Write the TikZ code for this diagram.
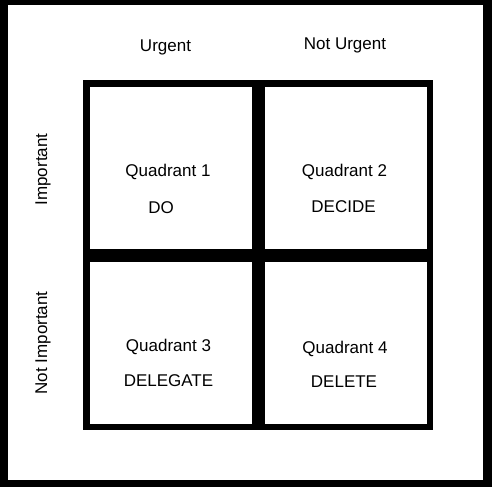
\documentclass[tikz,border=0pt]{standalone}
\usepackage{fontspec}
\setmainfont{Liberation Sans}
\usepackage{tikz}
\usetikzlibrary{calc}

\tikzset{
  quad/.style = {draw = black, line width = 6.5pt, minimum size = 168.5pt, inner sep = 0pt},
  lbl/.style = {inner sep = 0pt, text height = 12pt, text depth = 0pt, font = \fontsize{17}{20}\selectfont}
}

\begin{document}
\begin{tikzpicture}[x=1pt, y=-1pt]
    %%Frame
    \useasboundingbox (0,0) rectangle (492,487);
    \fill[black] (0,0) rectangle (492,487);
    \fill[white] (8,5) rectangle (483,480);
    %%Quadrants
    \node[quad] (q1) at (170.5,167.5) {};
    \node[quad] (q2) at (345.5,167.5) {};
    \node[quad] (q3) at (170.5,342.5) {};
    \node[quad] (q4) at (345.5,342.5) {};
    %%Headers
    \node[lbl] (urgent) at (165.5,46) {Urgent};
    \node[lbl] (noturgent) at (345,44) {Not Urgent};
    \node[lbl, rotate=90] (important) at (41,169.5) {Important};
    \node[lbl, rotate=90] (notimportant) at (41,343) {Not Important};
    %%Texts
    \node[lbl] (t1) at (168,170) {Quadrant 1};
    \node[lbl] (a1) at (161,207) {DO};
    \node[lbl] (t2) at (344.5,170) {Quadrant 2};
    \node[lbl] (a2) at (343.5,206) {DECIDE};
    \node[lbl] (t3) at (168.5,345) {Quadrant 3};
    \node[lbl] (a3) at (168.5,380) {DELEGATE};
    \node[lbl] (t4) at (345,347) {Quadrant 4};
    \node[lbl] (a4) at (344,381) {DELETE};
\end{tikzpicture}
\end{document}
